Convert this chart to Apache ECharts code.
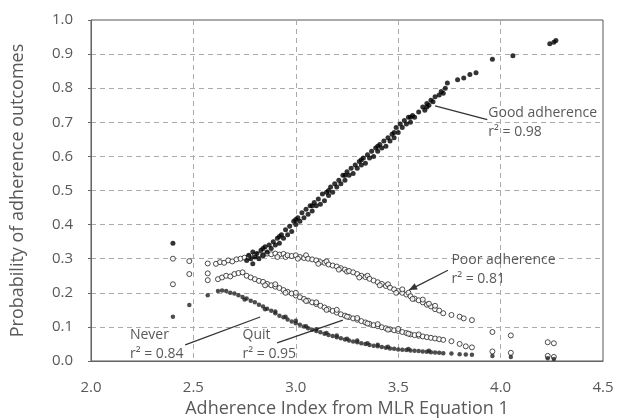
<!DOCTYPE html>
<html>
<head>
<meta charset="utf-8">
<script src="https://cdn.jsdelivr.net/npm/echarts@6/dist/echarts.min.js"></script>
<style>
  html, body { margin: 0; padding: 0; background: #fff; }
  #chart { width: 618px; height: 419px; }
</style>
</head>
<body>
<div id="chart"></div>
<script>
// x = adherence index, y = probability
const goodAdherence = [
  [2.40, 0.345],
  [2.76, 0.295], [2.77, 0.31], [2.78, 0.30], [2.79, 0.285], [2.79, 0.32], [2.80, 0.305],
  [2.81, 0.315], [2.82, 0.30], [2.83, 0.325], [2.84, 0.31], [2.85, 0.335], [2.86, 0.32],
  [2.87, 0.34], [2.88, 0.33], [2.89, 0.35], [2.90, 0.34], [2.91, 0.36], [2.92, 0.345],
  [2.93, 0.37], [2.94, 0.36], [2.95, 0.385], [2.96, 0.37], [2.97, 0.395], [2.98, 0.38],
  [2.99, 0.41], [3.00, 0.40], [3.01, 0.42], [3.02, 0.41], [3.03, 0.435], [3.04, 0.42],
  [3.05, 0.445], [3.06, 0.43], [3.07, 0.455], [3.08, 0.44], [3.09, 0.465], [3.10, 0.455],
  [3.11, 0.475], [3.12, 0.46], [3.13, 0.49], [3.14, 0.47], [3.15, 0.495], [3.16, 0.485],
  [3.17, 0.51], [3.18, 0.495], [3.19, 0.52], [3.20, 0.51], [3.21, 0.53], [3.22, 0.52],
  [3.23, 0.545], [3.24, 0.53], [3.25, 0.555], [3.26, 0.545], [3.27, 0.565], [3.28, 0.55],
  [3.29, 0.575], [3.30, 0.565], [3.31, 0.585], [3.32, 0.575], [3.33, 0.595], [3.34, 0.58],
  [3.35, 0.605], [3.36, 0.595], [3.37, 0.615], [3.38, 0.60], [3.39, 0.625], [3.40, 0.615],
  [3.41, 0.635], [3.42, 0.625], [3.43, 0.645], [3.44, 0.63], [3.45, 0.655], [3.46, 0.645],
  [3.47, 0.665], [3.48, 0.655], [3.49, 0.685], [3.50, 0.67], [3.51, 0.695], [3.52, 0.685],
  [3.53, 0.705], [3.54, 0.695], [3.55, 0.715], [3.56, 0.70], [3.57, 0.72], [3.58, 0.715],
  [3.60, 0.73], [3.62, 0.745], [3.63, 0.735], [3.64, 0.755], [3.65, 0.75], [3.66, 0.765],
  [3.67, 0.76], [3.68, 0.775], [3.70, 0.78], [3.71, 0.79], [3.72, 0.785], [3.73, 0.80],
  [3.74, 0.815], [3.79, 0.825], [3.82, 0.83], [3.85, 0.84], [3.88, 0.845], [3.96, 0.885],
  [4.06, 0.895], [4.24, 0.93], [4.26, 0.935], [4.27, 0.94],
  [2.84, 0.33], [2.92, 0.365], [3.00, 0.415], [3.08, 0.455], [3.16, 0.50], [3.24, 0.545],
  [3.32, 0.59], [3.40, 0.63], [3.48, 0.67], [3.56, 0.715], [3.64, 0.745]
];

const poorAdherence = [
  [2.40, 0.30], [2.40, 0.225], [2.48, 0.293], [2.48, 0.255], [2.57, 0.286], [2.57, 0.257], [2.57, 0.237],
  [2.61, 0.285], [2.63, 0.29], [2.65, 0.288], [2.67, 0.295], [2.69, 0.292], [2.71, 0.298],
  [2.73, 0.30], [2.75, 0.303], [2.77, 0.305], [2.80, 0.31], [2.82, 0.312], [2.84, 0.31],
  [2.86, 0.315], [2.88, 0.313], [2.90, 0.315], [2.92, 0.312], [2.94, 0.314], [2.95, 0.305],
  [2.96, 0.31], [2.98, 0.308], [3.00, 0.31], [3.02, 0.305], [3.04, 0.302], [3.05, 0.31],
  [3.06, 0.30], [3.08, 0.298], [3.10, 0.295], [3.12, 0.29], [3.14, 0.288], [3.15, 0.292],
  [3.16, 0.283], [3.18, 0.28], [3.20, 0.277], [3.22, 0.272], [3.24, 0.268], [3.25, 0.262],
  [3.26, 0.264], [3.28, 0.26], [3.30, 0.255], [3.32, 0.25], [3.34, 0.246], [3.35, 0.25],
  [3.36, 0.241], [3.38, 0.236], [3.40, 0.231], [3.42, 0.226], [3.44, 0.22], [3.45, 0.225],
  [3.46, 0.215], [3.48, 0.21], [3.50, 0.205], [3.52, 0.20], [3.52, 0.21], [3.54, 0.195],
  [3.55, 0.20], [3.56, 0.19], [3.58, 0.183], [3.60, 0.178], [3.62, 0.172], [3.62, 0.18],
  [3.64, 0.165], [3.66, 0.16], [3.68, 0.152], [3.68, 0.162], [3.70, 0.148], [3.72, 0.14],
  [3.76, 0.135], [3.80, 0.13], [3.82, 0.125], [3.86, 0.12], [3.96, 0.085], [4.05, 0.075],
  [4.23, 0.055], [4.26, 0.052],
  [2.91, 0.305], [3.01, 0.30], [3.11, 0.285], [3.21, 0.268], [3.31, 0.245], [3.41, 0.222],
  [3.49, 0.20], [3.57, 0.182], [3.65, 0.168]
];

const quit = [
  [2.62, 0.24], [2.64, 0.245], [2.66, 0.25], [2.68, 0.248], [2.70, 0.255], [2.72, 0.258],
  [2.74, 0.26], [2.76, 0.25], [2.78, 0.245], [2.80, 0.24], [2.82, 0.235], [2.84, 0.232],
  [2.86, 0.226], [2.88, 0.222], [2.90, 0.218], [2.90, 0.225], [2.92, 0.214], [2.94, 0.208],
  [2.96, 0.203], [2.98, 0.198], [3.00, 0.192], [3.00, 0.20], [3.02, 0.187], [3.04, 0.182],
  [3.06, 0.177], [3.08, 0.172], [3.10, 0.167], [3.10, 0.172], [3.12, 0.162], [3.14, 0.157],
  [3.16, 0.152], [3.18, 0.147], [3.20, 0.142], [3.20, 0.15], [3.22, 0.137], [3.24, 0.133],
  [3.26, 0.129], [3.28, 0.125], [3.30, 0.121], [3.30, 0.126], [3.32, 0.117], [3.34, 0.113],
  [3.36, 0.109], [3.38, 0.105], [3.40, 0.102], [3.40, 0.108], [3.42, 0.099], [3.44, 0.096],
  [3.46, 0.093], [3.48, 0.09], [3.50, 0.088], [3.50, 0.094], [3.52, 0.085], [3.54, 0.082],
  [3.56, 0.078], [3.58, 0.076], [3.60, 0.074], [3.60, 0.078], [3.62, 0.072], [3.64, 0.07],
  [3.66, 0.068], [3.68, 0.066], [3.70, 0.064], [3.72, 0.062], [3.76, 0.058], [3.80, 0.05],
  [3.83, 0.043], [3.86, 0.04], [3.96, 0.028], [4.05, 0.024], [4.23, 0.015], [4.26, 0.012],
  [2.85, 0.222], [2.95, 0.20], [3.05, 0.176], [3.15, 0.15], [3.25, 0.13], [3.35, 0.11],
  [3.45, 0.092], [3.55, 0.08]
];

const never = [
  [2.40, 0.13], [2.48, 0.164], [2.57, 0.193], [2.62, 0.205], [2.64, 0.207], [2.66, 0.205],
  [2.68, 0.20], [2.70, 0.198], [2.72, 0.193], [2.74, 0.188], [2.76, 0.183], [2.78, 0.177],
  [2.80, 0.172], [2.82, 0.165], [2.84, 0.16], [2.86, 0.153], [2.88, 0.147], [2.90, 0.14],
  [2.90, 0.145], [2.92, 0.133], [2.94, 0.128], [2.96, 0.122], [2.98, 0.116], [3.00, 0.111],
  [3.00, 0.118], [3.02, 0.106], [3.04, 0.101], [3.06, 0.096], [3.08, 0.092], [3.10, 0.088],
  [3.10, 0.093], [3.12, 0.084], [3.14, 0.08], [3.16, 0.076], [3.18, 0.073], [3.20, 0.07],
  [3.20, 0.075], [3.22, 0.067], [3.24, 0.063], [3.26, 0.06], [3.28, 0.057], [3.30, 0.055],
  [3.30, 0.06], [3.32, 0.052], [3.34, 0.05], [3.36, 0.047], [3.38, 0.045], [3.40, 0.043],
  [3.40, 0.048], [3.42, 0.041], [3.44, 0.039], [3.46, 0.037], [3.48, 0.036], [3.50, 0.034],
  [3.52, 0.033], [3.54, 0.032], [3.56, 0.031], [3.58, 0.03], [3.60, 0.029], [3.62, 0.028],
  [3.64, 0.027], [3.66, 0.026], [3.68, 0.025], [3.70, 0.024], [3.72, 0.023], [3.76, 0.022],
  [3.80, 0.02], [3.83, 0.019], [3.86, 0.018], [3.96, 0.015], [4.05, 0.012], [4.23, 0.008],
  [4.26, 0.006],
  [2.75, 0.18], [2.85, 0.152], [2.95, 0.13], [3.05, 0.102], [3.15, 0.082], [3.25, 0.065],
  [3.35, 0.052], [3.45, 0.042], [3.55, 0.035], [3.65, 0.03]
];

// labels and leader lines, in data coordinates
const annotations = [
  { label: 'Good adherence', r2: 'r\u00b2 = 0.98', at: [3.94, 0.728], from: [3.935, 0.708], to: [3.68, 0.748], arrow: false },
  { label: 'Poor adherence', r2: 'r\u00b2 = 0.81', at: [3.76, 0.295], from: [3.743, 0.266], to: [3.553, 0.208], arrow: true },
  { label: 'Never', r2: 'r\u00b2 = 0.84', at: [2.19, 0.076], from: [2.46, 0.047], to: [2.826, 0.129], arrow: false },
  { label: 'Quit', r2: 'r\u00b2 = 0.95', at: [2.74, 0.076], from: [2.909, 0.053], to: [3.23, 0.12], arrow: false }
];

const FONT = '"Open Sans", "Liberation Sans", sans-serif';
const TEXT = '#595959';
const chart = echarts.init(document.getElementById('chart'));

const openMarker = { color: '#fff', borderColor: '#222', borderWidth: 1 };

chart.setOption({
  animation: false,
  grid: {
    left: 91, right: 15, top: 20, bottom: 58, outerBoundsMode: 'none',
    show: true, borderColor: '#555', borderWidth: 1
  },
  xAxis: {
    type: 'value', min: 2, max: 4.5, interval: 0.5,
    name: 'Adherence Index from MLR Equation 1', nameLocation: 'middle', nameGap: 38,
    nameTextStyle: { color: TEXT, fontSize: 18, fontFamily: FONT },
    axisLine: { show: true, onZero: false, lineStyle: { color: '#666' } },
    axisTick: { show: false },
    axisLabel: { color: TEXT, fontSize: 15, fontFamily: FONT, margin: 19, formatter: v => v.toFixed(1) },
    splitLine: { show: true, lineStyle: { color: '#aaa', type: [5, 4] } }
  },
  yAxis: {
    type: 'value', min: 0, max: 1, interval: 0.1,
    name: 'Probability of adherence outcomes', nameLocation: 'middle', nameGap: 64,
    nameTextStyle: { color: TEXT, fontSize: 18, fontFamily: FONT },
    axisLine: { show: true, lineStyle: { color: '#666' } },
    axisTick: { show: true, length: 3, lineStyle: { color: '#666' } },
    axisLabel: { color: TEXT, fontSize: 15, fontFamily: FONT, margin: 18, formatter: v => v.toFixed(1) },
    splitLine: { show: true, lineStyle: { color: '#aaa', type: [5, 4] } }
  },
  series: [
    { name: 'Poor adherence', type: 'scatter', data: poorAdherence, symbol: 'circle', symbolSize: 5, itemStyle: openMarker },
    { name: 'Quit', type: 'scatter', data: quit, symbol: 'circle', symbolSize: 5, itemStyle: openMarker },
    { name: 'Never', type: 'scatter', data: never, symbol: 'circle', symbolSize: 4.5, itemStyle: { color: '#222' } },
    { name: 'Good adherence', type: 'scatter', data: goodAdherence, symbol: 'circle', symbolSize: 5, itemStyle: { color: '#000' } }
  ]
});

const toPx = p => chart.convertToPixel({ gridIndex: 0 }, p);
const graphics = [];
annotations.forEach(a => {
  const t = toPx(a.at);
  const f = toPx(a.from);
  const e = toPx(a.to);
  graphics.push({ type: 'text', x: t[0], y: t[1], style: { text: a.label, fill: TEXT, font: '14px ' + FONT, align: 'left', verticalAlign: 'middle' } });
  graphics.push({ type: 'text', x: t[0], y: t[1] + 19, style: { text: a.r2, fill: TEXT, font: '14px ' + FONT, align: 'left', verticalAlign: 'middle' } });
  graphics.push({ type: 'line', shape: { x1: f[0], y1: f[1], x2: e[0], y2: e[1] }, style: { stroke: '#333', lineWidth: 1.3 } });
  if (a.arrow) {
    const ang = Math.atan2(e[1] - f[1], e[0] - f[0]);
    const L = 8, W = 3.5;
    const bx = e[0] - L * Math.cos(ang), by = e[1] - L * Math.sin(ang);
    graphics.push({ type: 'polygon', shape: { points: [
      [e[0], e[1]],
      [bx + W * Math.sin(ang), by - W * Math.cos(ang)],
      [bx - W * Math.sin(ang), by + W * Math.cos(ang)]
    ] }, style: { fill: '#333' } });
  }
});
chart.setOption({ graphic: graphics });
</script>
</body>
</html>
